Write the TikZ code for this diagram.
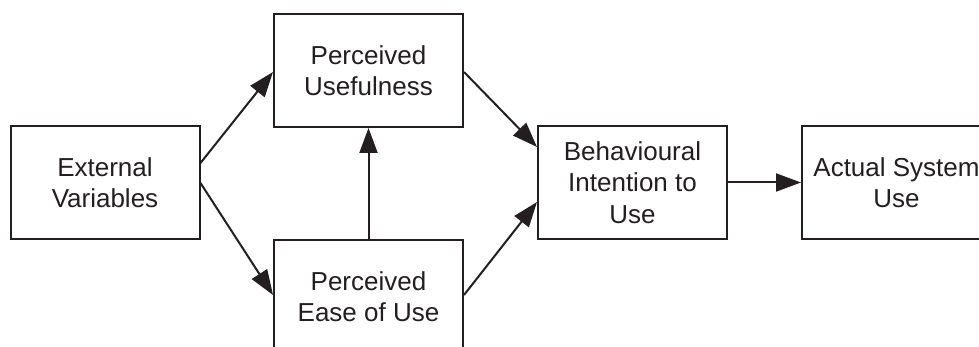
\documentclass[tikz,border=0pt]{standalone}
\usepackage{fontspec}
\setmainfont{Liberation Sans}
\usetikzlibrary{arrows.meta}
\definecolor{ink}{HTML}{231F20}
\begin{document}
\begin{tikzpicture}[x=1pt,y=-1pt,
  box/.style={draw=ink, line width=2pt, minimum width=189pt, minimum height=113pt,
    align=center, inner sep=0pt, text=ink, font=\fontsize{26}{31.5}\selectfont},
  arr/.style={draw=ink, line width=2pt, -{Triangle[length=25pt,width=18pt]}}]
\useasboundingbox[fill=white] (0,0) rectangle (979,347);
\node[box] (ev) at (105,182.5) {External\\Variables};
\node[box] (pu) at (368.5,70.5) {Perceived\\Usefulness};
\node[box] (peou) at (368.5,296.5) {Perceived\\Ease of Use};
\node[box] (bi) at (632.5,182.5) {Behavioural\\Intention to\\Use};
\node[box] (asu) at (896.5,182.5) {Actual System\\Use};
\draw[arr] ([yshift=19.5pt]ev.east) -- ([yshift=-1.5pt]pu.west);
\draw[arr] ([yshift=-0.5pt]ev.east) -- ([yshift=1.5pt]peou.west);
\draw[arr] (peou.north) -- (pu.south);
\draw[arr] ([yshift=-1.5pt]pu.east) -- ([yshift=35.5pt]bi.west);
\draw[arr] ([yshift=1.5pt]peou.east) -- ([yshift=-19.5pt]bi.west);
\draw[arr] (bi.east) -- (asu.west);
\end{tikzpicture}
\end{document}
